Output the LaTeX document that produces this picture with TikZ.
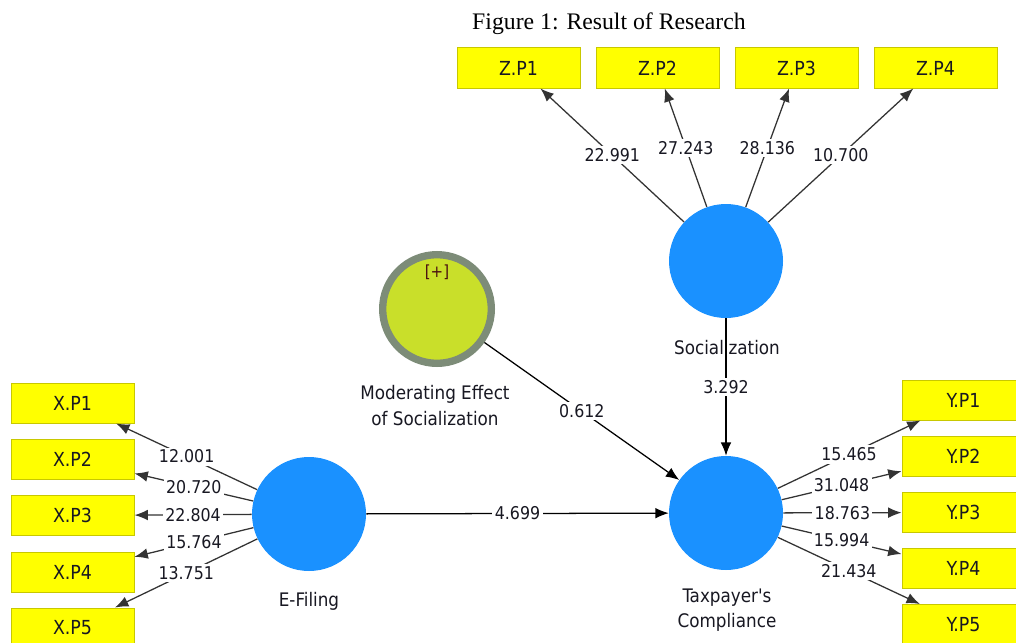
\documentclass[tikz,border=0pt]{standalone}
\usepackage{fontspec}
\setmainfont{Liberation Serif}
\newfontfamily\plsfont{DejaVu Sans Condensed}
\usetikzlibrary{arrows.meta}
\definecolor{indyellow}{HTML}{FFFF00}
\definecolor{indborder}{HTML}{C8C800}
\definecolor{lvblue}{HTML}{1A91FF}
\definecolor{modfill}{HTML}{C9DF2A}
\definecolor{modring}{HTML}{7D8C78}
\definecolor{txt}{HTML}{181822}
\definecolor{plusred}{HTML}{4A1010}
\definecolor{loadline}{HTML}{333333}
\begin{document}
\begin{tikzpicture}[x=0.75pt,y=-0.75pt,
 ind/.style={rectangle, fill=indyellow, draw=indborder, line width=0.75pt, minimum width=92.25pt, minimum height=30pt, inner sep=0pt, font=\plsfont\fontsize{14.5}{16}\selectfont, text=txt},
 lv/.style={circle, fill=lvblue, minimum size=85.5pt, inner sep=0pt},
 modlv/.style={circle, fill=modfill, draw=modring, line width=5.5pt, minimum size=81.5pt, inner sep=0pt},
 lvlabel/.style={font=\plsfont\fontsize{14}{19}\selectfont, text=txt, align=center},
 load/.style={draw=loadline, line width=0.95pt, -{Latex[length=10pt,width=8pt]}},
 pathc/.style={draw=black, line width=0.95pt, -{Latex[length=10pt,width=8pt]}},
 coef/.style={fill=white, inner sep=1.8pt, font=\plsfont\fontsize{13.2}{15}\selectfont, text=txt},
]
\clip (0,0) rectangle (1016,642);
\fill[white] (0,0) rectangle (1016,642);

\node[font=\fontsize{17.8}{20}\selectfont] (title) at (609,24) {Figure 1: Result of Research};

% latent variables
\node[lv] (soc) at (726,261) {};
\node[lv] (ef) at (309,514) {};
\node[lv] (tc) at (726,513) {};
\node[modlv] (mod) at (437,309) {};
\node[font=\plsfont\fontsize{12.5}{14}\selectfont, text=plusred] (plus) at (437,272) {[+]};

\node[lvlabel] (socl) at (727,348) {Socialization};
\node[lvlabel] (efl) at (309,601) {E-Filing};
\node[lvlabel] (tcl) at (727,610) {Taxpayer's\\Compliance};
\node[lvlabel] (modl) at (435,405.5) {Moderating Effect\\of Socialization};

% indicators
\node[ind] (zp1) at (518.5,68) {Z.P1};
\node[ind] (zp2) at (657.5,68) {Z.P2};
\node[ind] (zp3) at (796.5,68) {Z.P3};
\node[ind] (zp4) at (935.5,68) {Z.P4};

\node[ind] (xp1) at (72.5,403) {X.P1};
\node[ind] (xp2) at (72.5,459) {X.P2};
\node[ind] (xp3) at (72.5,515.5) {X.P3};
\node[ind] (xp4) at (72.5,572) {X.P4};
\node[ind] (xp5) at (72.5,628) {X.P5};

\node[ind] (yp1) at (963.5,400) {Y.P1};
\node[ind] (yp2) at (963.5,456.5) {Y.P2};
\node[ind] (yp3) at (963.5,512.5) {Y.P3};
\node[ind] (yp4) at (963.5,568.5) {Y.P4};
\node[ind] (yp5) at (963.5,624.5) {Y.P5};

% loadings
\draw[load] (soc) -- node[coef] {22.991} (zp1);
\draw[load] (soc) -- node[coef] {27.243} (zp2);
\draw[load] (soc) -- node[coef] {28.136} (zp3);
\draw[load] (soc) -- node[coef] {10.700} (zp4);

\draw[load] (ef) -- node[coef] {12.001} (xp1);
\draw[load] (ef) -- node[coef] {20.720} (xp2);
\draw[load] (ef) -- node[coef] {22.804} (xp3);
\draw[load] (ef) -- node[coef] {15.764} (xp4);
\draw[load] (ef) -- node[coef] {13.751} (xp5);

\draw[load] (tc) -- node[coef] {15.465} (yp1);
\draw[load] (tc) -- node[coef] {31.048} (yp2);
\draw[load] (tc) -- node[coef] {18.763} (yp3);
\draw[load] (tc) -- node[coef] {15.994} (yp4);
\draw[load] (tc) -- node[coef] {21.434} (yp5);

% structural paths
\draw[pathc] (ef) -- node[coef] {4.699} (tc);
\draw[pathc] (mod) -- node[coef] {0.612} (tc);
\draw[pathc] (soc) -- node[coef] {3.292} (tc);
\end{tikzpicture}
\end{document}
